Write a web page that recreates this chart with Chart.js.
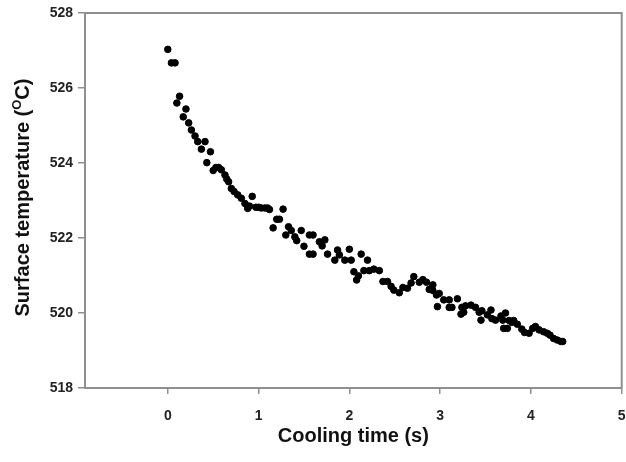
<!DOCTYPE html>
<html>
<head>
<meta charset="utf-8">
<script src="https://cdn.jsdelivr.net/npm/chart.js@4"></script>
<style>
  html, body { margin: 0; padding: 0; background: #fff; }
  #wrap { width: 626px; height: 462px; }
</style>
</head>
<body>
<div id="wrap"><canvas id="coolingChart" width="626" height="462"></canvas></div>
<script>
// cooling curve
const times = [
    0.00, 0.04, 0.08, 0.10, 0.13, 0.17, 0.20, 0.23, 0.26, 0.30,
    0.33, 0.37, 0.41, 0.43, 0.47, 0.50, 0.53, 0.56, 0.59, 0.63,
    0.65, 0.67, 0.70, 0.73, 0.77, 0.81, 0.85, 0.88, 0.90, 0.93,
    0.97, 1.00, 1.03, 1.07, 1.10, 1.12, 1.16, 1.20, 1.23, 1.27,
    1.30, 1.33, 1.36, 1.40, 1.42, 1.47, 1.50, 1.56, 1.60, 1.56,
    1.60, 1.67, 1.70, 1.73, 1.76, 1.84, 1.87, 1.89, 1.95, 2.00,
    2.02, 2.05, 2.08, 2.10, 2.13, 2.16, 2.20, 2.22, 2.27, 2.33,
    2.37, 2.42, 2.46, 2.49, 2.55, 2.59, 2.64, 2.68, 2.71, 2.77,
    2.81, 2.85, 2.88, 2.92, 2.92, 2.96, 2.97, 2.99, 3.04, 3.10,
    3.10, 3.13, 3.19, 3.23, 3.24, 3.26, 3.28, 3.34, 3.39, 3.43,
    3.45, 3.46, 3.52, 3.56, 3.57, 3.61, 3.67, 3.69, 3.70, 3.72,
    3.74, 3.76, 3.79, 3.81, 3.85, 3.90, 3.93, 3.98, 4.02, 4.05,
    4.09, 4.14, 4.18, 4.21, 4.25, 4.29, 4.33, 4.35
];
const temps = [
    527.03, 526.67, 526.67, 525.60, 525.78, 525.23, 525.44, 525.07, 524.88, 524.72,
    524.57, 524.37, 524.57, 524.01, 524.30, 523.80, 523.88, 523.88, 523.82, 523.68,
    523.57, 523.50, 523.32, 523.24, 523.15, 523.06, 522.92, 522.79, 522.85, 523.11,
    522.82, 522.82, 522.80, 522.80, 522.80, 522.76, 522.27, 522.50, 522.50, 522.77,
    522.08, 522.30, 522.20, 522.03, 521.93, 522.20, 521.78, 522.08, 522.08, 521.57,
    521.57, 521.90, 521.79, 521.95, 521.57, 521.41, 521.68, 521.55, 521.41, 521.70,
    521.41, 521.10, 520.88, 520.99, 521.57, 521.13, 521.41, 521.13, 521.17, 521.13,
    520.84, 520.84, 520.71, 520.61, 520.54, 520.68, 520.66, 520.80, 520.97, 520.82,
    520.89, 520.82, 520.63, 520.75, 520.60, 520.48, 520.17, 520.52, 520.35, 520.35,
    520.15, 520.15, 520.38, 519.97, 520.15, 520.02, 520.19, 520.21, 520.15, 520.02,
    519.81, 520.06, 519.95, 520.08, 519.85, 519.81, 519.92, 519.81, 519.59, 520.00,
    519.59, 519.80, 519.75, 519.80, 519.70, 519.57, 519.48, 519.46, 519.59, 519.64,
    519.55, 519.50, 519.46, 519.41, 519.32, 519.28, 519.24, 519.24
];
const xTicks = [0, 1, 2, 3, 4, 5];
const yTicks = [518, 520, 522, 524, 526, 528];

const FONT = "'Liberation Sans', Arial, sans-serif";
const AXIS_GRAY = '#8f8f8f';

// box around the plot plus the y title with its superscript O
const framePlugin = {
    id: 'frame',
    afterDraw(chart) {
        const { ctx, chartArea: a } = chart;
        ctx.save();
        ctx.strokeStyle = AXIS_GRAY;
        ctx.lineWidth = 2;
        ctx.beginPath();
        ctx.moveTo(a.left, a.top);
        ctx.lineTo(a.right, a.top);
        ctx.lineTo(a.right, a.bottom);
        ctx.stroke();

        // y axis title
        const main = 'Surface temperature (';
        const sup = 'O';
        const end = 'C)';
        ctx.translate(23, (a.top + a.bottom) / 2 - 3);
        ctx.rotate(-Math.PI / 2);
        ctx.fillStyle = '#111';
        ctx.textBaseline = 'middle';
        ctx.font = 'bold 20px ' + FONT;
        const w1 = ctx.measureText(main).width;
        const w3 = ctx.measureText(end).width;
        ctx.font = 'bold 13px ' + FONT;
        const w2 = ctx.measureText(sup).width;
        let x = -(w1 + w2 + w3) / 2;
        ctx.font = 'bold 20px ' + FONT;
        ctx.fillText(main, x, 0);
        x += w1;
        ctx.font = 'bold 13px ' + FONT;
        ctx.fillText(sup, x, -6);
        x += w2;
        ctx.font = 'bold 20px ' + FONT;
        ctx.fillText(end, x, 0);
        ctx.restore();
    }
};

const ctx = document.getElementById('coolingChart').getContext('2d');
new Chart(ctx, {
    type: 'scatter',
    data: {
        datasets: [{
            label: 'Surface temperature',
            data: times.map((t, i) => ({ x: t, y: temps[i] })),
            backgroundColor: '#000',
            borderColor: '#000',
            pointRadius: 3.3,
            pointHoverRadius: 3.3
        }]
    },
    options: {
        responsive: false,
        animation: false,
        layout: { padding: { left: 0, right: 3, top: 13, bottom: 0 } },
        plugins: {
            legend: { display: false },
            tooltip: { enabled: false }
        },
        scales: {
            x: {
                type: 'linear',
                min: -0.912,
                max: 5,
                afterBuildTicks: s => { s.ticks = xTicks.map(v => ({ value: v })); },
                afterFit: s => { s.height = 74; s.paddingLeft = 0; s.paddingRight = 0; },
                border: { color: AXIS_GRAY, width: 2 },
                grid: { drawOnChartArea: false, color: AXIS_GRAY, tickLength: 6, lineWidth: 1.5 },
                ticks: {
                    color: '#222',
                    padding: 14,
                    maxRotation: 0,
                    font: { family: FONT, size: 14, weight: 'bold' }
                },
                title: {
                    display: true,
                    text: 'Cooling time (s)',
                    color: '#111',
                    padding: { top: 0, bottom: 14 },
                    font: { family: FONT, size: 20, weight: 'bold' }
                }
            },
            y: {
                min: 518,
                max: 528,
                afterBuildTicks: s => { s.ticks = yTicks.map(v => ({ value: v })); },
                afterFit: s => { s.width = 85; s.paddingTop = 0; s.paddingBottom = 0; },
                border: { color: AXIS_GRAY, width: 2 },
                grid: { drawOnChartArea: false, color: AXIS_GRAY, tickLength: 7, lineWidth: 1.5 },
                ticks: {
                    color: '#222',
                    padding: 5,
                    font: { family: FONT, size: 14, weight: 'bold' }
                }
            }
        }
    },
    plugins: [framePlugin]
});
</script>
</body>
</html>
